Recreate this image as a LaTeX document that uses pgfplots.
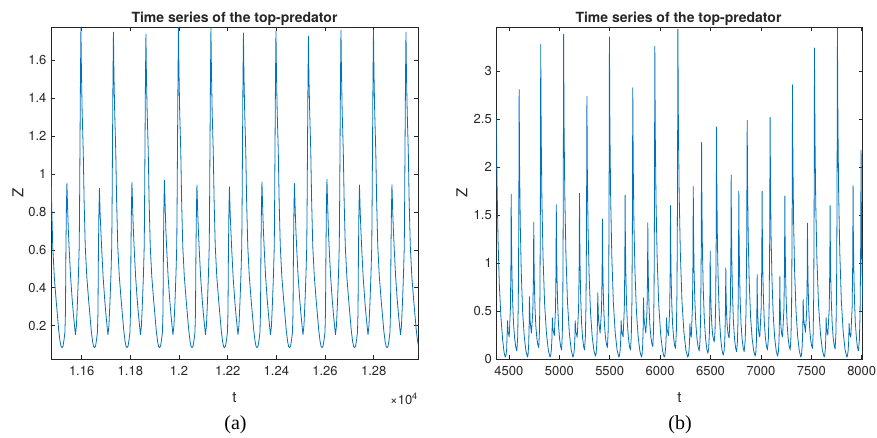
\documentclass[border=0pt]{standalone}
\usepackage{fontspec}
\setmainfont{TeX Gyre Heros}
\newfontfamily\capfont{Liberation Serif}
\usepackage{pgfplots}
\pgfplotsset{compat=1.18}
\definecolor{mblue}{rgb}{0,0.447,0.741}
\definecolor{axgray}{rgb}{0.15,0.15,0.15}
\pgfplotsset{mstyle/.style={
  scale only axis,
  axis line style={axgray, line width=0.7pt},
  tick style={axgray, line width=0.6pt},
  major tick length=4pt,
  tick align=inside,
  xtick pos=both, ytick pos=both,
  tick label style={font=\fontsize{13}{15}\selectfont, text=axgray},
  /pgf/number format/assume math mode=true,
  /pgf/number format/1000 sep={},
  scaled x ticks=false, scaled y ticks=false,
  xticklabel style={yshift=-4pt},
  yticklabel style={xshift=-1pt},
}}
\begin{document}
\begin{tikzpicture}[x=1pt,y=1pt]
\useasboundingbox (0,0) rectangle (877,-437);
\begin{axis}[mstyle, at={(51pt,-359pt)}, anchor=south west, width=367pt, height=332pt,
  xmin=11474, xmax=12982, ymin=0.024, ymax=1.776,
  xtick={11600,11800,12000,12200,12400,12600,12800},
  xticklabels={1.16,1.18,1.2,1.22,1.24,1.26,1.28},
  ytick={0.2,0.4,0.6,0.8,1,1.2,1.4,1.6}]
\addplot[mblue, line width=0.8pt, line join=round] coordinates {
(11468.4,1.33) (11472.9,1.12) (11476.4,0.86) (11481.1,0.62) (11487.4,0.46) (11495.0,0.335) (11500.4,0.255) (11505.7,0.175) (11511.4,0.115) (11515.4,0.09) (11519.4,0.084) (11523.4,0.092) (11527.4,0.125) (11531.2,0.165) (11533.4,0.27) (11535.3,0.6) (11537.4,0.831) (11539.4,0.951) (11542.4,0.811) (11545.4,0.7) (11548.9,0.6) (11554.4,0.46) (11561.2,0.335) (11566.4,0.255) (11571.4,0.19) (11574.4,0.152)
(11578.5,0.2) (11583.0,0.335) (11587.0,0.48) (11590.0,0.62) (11591.5,0.85) (11593.0,1.13) (11595.0,1.5) (11597.0,1.770) (11599.0,1.55) (11602.0,1.33) (11606.5,1.12) (11610.0,0.86) (11614.7,0.62) (11621.0,0.46) (11628.6,0.335) (11634.0,0.255) (11639.3,0.175) (11645.0,0.115) (11649.0,0.09) (11653.0,0.084) (11657.0,0.092) (11661.0,0.125) (11664.8,0.165) (11667.0,0.27) (11668.9,0.6) (11671.0,0.805) (11673.0,0.925) (11676.0,0.785) (11679.0,0.7) (11682.5,0.6) (11688.0,0.46) (11694.8,0.335) (11700.0,0.255) (11705.0,0.19) (11708.0,0.152)
(11712.1,0.2) (11716.6,0.335) (11720.6,0.48) (11723.6,0.62) (11725.1,0.85) (11726.6,1.13) (11728.6,1.5) (11730.6,1.749) (11732.6,1.529) (11735.6,1.33) (11740.1,1.12) (11743.6,0.86) (11748.3,0.62) (11754.6,0.46) (11762.2,0.335) (11767.6,0.255) (11772.9,0.175) (11778.6,0.115) (11782.6,0.09) (11786.6,0.084) (11790.6,0.092) (11794.6,0.125) (11798.4,0.165) (11800.6,0.27) (11802.5,0.6) (11804.6,0.835) (11806.6,0.955) (11809.6,0.815) (11812.6,0.7) (11816.1,0.6) (11821.6,0.46) (11828.4,0.335) (11833.6,0.255) (11838.6,0.19) (11841.6,0.152)
(11845.6,0.2) (11850.1,0.335) (11854.1,0.48) (11857.1,0.62) (11858.6,0.85) (11860.1,1.13) (11862.1,1.5) (11864.1,1.739) (11866.1,1.519) (11869.1,1.33) (11873.6,1.12) (11877.1,0.86) (11881.8,0.62) (11888.1,0.46) (11895.7,0.335) (11901.1,0.255) (11906.4,0.175) (11912.1,0.115) (11916.1,0.09) (11920.1,0.084) (11924.1,0.092) (11928.1,0.125) (11931.9,0.165) (11934.1,0.27) (11936.0,0.6) (11938.1,0.848) (11940.1,0.968) (11943.1,0.828) (11946.1,0.7) (11949.6,0.6) (11955.1,0.46) (11961.9,0.335) (11967.1,0.255) (11972.1,0.19) (11975.1,0.152)
(11979.2,0.2) (11983.7,0.335) (11987.7,0.48) (11990.7,0.62) (11992.2,0.85) (11993.7,1.13) (11995.7,1.5) (11997.7,1.776) (11999.7,1.556) (12002.7,1.33) (12007.2,1.12) (12010.7,0.86) (12015.4,0.62) (12021.7,0.46) (12029.3,0.335) (12034.7,0.255) (12040.0,0.175) (12045.7,0.115) (12049.7,0.09) (12053.7,0.084) (12057.7,0.092) (12061.7,0.125) (12065.5,0.165) (12067.7,0.27) (12069.6,0.6) (12071.7,0.822) (12073.7,0.942) (12076.7,0.802) (12079.7,0.7) (12083.2,0.6) (12088.7,0.46) (12095.5,0.335) (12100.7,0.255) (12105.7,0.19) (12108.7,0.152)
(12112.7,0.2) (12117.2,0.335) (12121.2,0.48) (12124.2,0.62) (12125.7,0.85) (12127.2,1.13) (12129.2,1.5) (12131.2,1.772) (12133.2,1.552) (12136.2,1.33) (12140.7,1.12) (12144.2,0.86) (12148.9,0.62) (12155.2,0.46) (12162.8,0.335) (12168.2,0.255) (12173.5,0.175) (12179.2,0.115) (12183.2,0.09) (12187.2,0.084) (12191.2,0.092) (12195.2,0.125) (12199.0,0.165) (12201.2,0.27) (12203.1,0.6) (12205.2,0.813) (12207.2,0.933) (12210.2,0.793) (12213.2,0.7) (12216.7,0.6) (12222.2,0.46) (12229.0,0.335) (12234.2,0.255) (12239.2,0.19) (12242.2,0.152)
(12246.3,0.2) (12250.8,0.335) (12254.8,0.48) (12257.8,0.62) (12259.3,0.85) (12260.8,1.13) (12262.8,1.5) (12264.8,1.744) (12266.8,1.524) (12269.8,1.33) (12274.3,1.12) (12277.8,0.86) (12282.5,0.62) (12288.8,0.46) (12296.4,0.335) (12301.8,0.255) (12307.1,0.175) (12312.8,0.115) (12316.8,0.09) (12320.8,0.084) (12324.8,0.092) (12328.8,0.125) (12332.6,0.165) (12334.8,0.27) (12336.7,0.6) (12338.8,0.838) (12340.8,0.958) (12343.8,0.818) (12346.8,0.7) (12350.3,0.6) (12355.8,0.46) (12362.6,0.335) (12367.8,0.255) (12372.8,0.19) (12375.8,0.152)
(12379.9,0.2) (12384.4,0.335) (12388.4,0.48) (12391.4,0.62) (12392.9,0.85) (12394.4,1.13) (12396.4,1.5) (12398.4,1.756) (12400.4,1.536) (12403.4,1.33) (12407.9,1.12) (12411.4,0.86) (12416.1,0.62) (12422.4,0.46) (12430.0,0.335) (12435.4,0.255) (12440.7,0.175) (12446.4,0.115) (12450.4,0.09) (12454.4,0.084) (12458.4,0.092) (12462.4,0.125) (12466.2,0.165) (12468.4,0.27) (12470.3,0.6) (12472.4,0.83) (12474.4,0.95) (12477.4,0.81) (12480.4,0.7) (12483.9,0.6) (12489.4,0.46) (12496.2,0.335) (12501.4,0.255) (12506.4,0.19) (12509.4,0.152)
(12513.4,0.2) (12517.9,0.335) (12521.9,0.48) (12524.9,0.62) (12526.4,0.85) (12527.9,1.13) (12529.9,1.5) (12531.9,1.728) (12533.9,1.508) (12536.9,1.33) (12541.4,1.12) (12544.9,0.86) (12549.6,0.62) (12555.9,0.46) (12563.5,0.335) (12568.9,0.255) (12574.2,0.175) (12579.9,0.115) (12583.9,0.09) (12587.9,0.084) (12591.9,0.092) (12595.9,0.125) (12599.7,0.165) (12601.9,0.27) (12603.8,0.6) (12605.9,0.852) (12607.9,0.972) (12610.9,0.832) (12613.9,0.7) (12617.4,0.6) (12622.9,0.46) (12629.7,0.335) (12634.9,0.255) (12639.9,0.19) (12642.9,0.152)
(12647.0,0.2) (12651.5,0.335) (12655.5,0.48) (12658.5,0.62) (12660.0,0.85) (12661.5,1.13) (12663.5,1.5) (12665.5,1.76) (12667.5,1.54) (12670.5,1.33) (12675.0,1.12) (12678.5,0.86) (12683.2,0.62) (12689.5,0.46) (12697.1,0.335) (12702.5,0.255) (12707.8,0.175) (12713.5,0.115) (12717.5,0.09) (12721.5,0.084) (12725.5,0.092) (12729.5,0.125) (12733.3,0.165) (12735.5,0.27) (12737.4,0.6) (12739.5,0.822) (12741.5,0.942) (12744.5,0.802) (12747.5,0.7) (12751.0,0.6) (12756.5,0.46) (12763.3,0.335) (12768.5,0.255) (12773.5,0.19) (12776.5,0.152)
(12780.5,0.2) (12785.0,0.335) (12789.0,0.48) (12792.0,0.62) (12793.5,0.85) (12795.0,1.13) (12797.0,1.5) (12799.0,1.76) (12801.0,1.54) (12804.0,1.33) (12808.5,1.12) (12812.0,0.86) (12816.7,0.62) (12823.0,0.46) (12830.6,0.335) (12836.0,0.255) (12841.3,0.175) (12847.0,0.115) (12851.0,0.09) (12855.0,0.084) (12859.0,0.092) (12863.0,0.125) (12866.8,0.165) (12869.0,0.27) (12870.9,0.6) (12873.0,0.824) (12875.0,0.944) (12878.0,0.804) (12881.0,0.7) (12884.5,0.6) (12890.0,0.46) (12896.8,0.335) (12902.0,0.255) (12907.0,0.19) (12910.0,0.152)
(12914.1,0.2) (12918.6,0.335) (12922.6,0.48) (12925.6,0.62) (12927.1,0.85) (12928.6,1.13) (12930.6,1.5) (12932.6,1.749) (12934.6,1.529) (12937.6,1.33) (12942.1,1.12) (12945.6,0.86) (12950.3,0.62) (12956.6,0.46) (12964.2,0.335) (12969.6,0.255) (12974.9,0.175) (12980.6,0.115) (12984.6,0.09) (12988.6,0.084)
};
\end{axis}
\begin{axis}[mstyle, at={(496.3pt,-359pt)}, anchor=south west, width=366.4pt, height=331.7pt,
  xmin=4375, xmax=8010, ymin=0, ymax=3.46,
  xtick={4500,5000,5500,6000,6500,7000,7500,8000},
  ytick={0,0.5,1,1.5,2,2.5,3}]
\addplot[mblue, line width=0.8pt, line join=round] coordinates {
(4375,2.54) (4382,1.85) (4392,1.25) (4405,0.78) (4420,0.45) (4438,0.2) (4452,0.07) (4463.6,0.02)
(4470.5,0.035) (4477.4,0.096) (4486.6,0.40)
(4491.5,0.29) (4503,0.23)
(4514.9,0.528) (4519.8,0.975) (4522.8,1.72)
(4525.6,1.262) (4530.1,0.903) (4536.8,0.608) (4546.3,0.363) (4557.5,0.208) (4568.6,0.121) (4578.7,0.085)
(4586.8,0.221) (4593.0,0.575) (4597.6,1.311) (4601.8,2.81)
(4605.9,2.029) (4612.5,1.415) (4622.4,0.913) (4636.3,0.494) (4652.8,0.229) (4669.2,0.081) (4684,0.02)
(4689.9,0.045) (4695.8,0.146) (4700.7,0.335) (4703.7,0.65)
(4709.6,0.403) (4723.5,0.27)
(4737.3,0.502) (4743.1,0.85) (4746.5,1.43)
(4749.0,1.063) (4752.9,0.775) (4758.9,0.539) (4767.2,0.343) (4777.1,0.218) (4787.0,0.149) (4795.9,0.12)
(4802.8,0.278) (4808.1,0.689) (4812.1,1.542) (4815.6,3.28)
(4820.2,2.367) (4827.6,1.65) (4838.6,1.063) (4854.3,0.574) (4872.7,0.265) (4891.1,0.092) (4907.7,0.02)
(4914.6,0.036) (4921.6,0.102) (4927.3,0.225) (4930.8,0.43)
(4936.7,0.31) (4950.5,0.245)
(4962.3,0.518) (4967.2,0.928) (4970.2,1.61)
(4972.8,1.186) (4977.1,0.853) (4983.4,0.58) (4992.3,0.353) (5002.9,0.209) (5013.4,0.128) (5022.9,0.095)
(5029.8,0.26) (5035.1,0.687) (5039.1,1.576) (5042.6,3.385)
(5047.2,2.443) (5054.6,1.703) (5065.6,1.097) (5081.3,0.592) (5099.7,0.272) (5118.1,0.094) (5134.7,0.02)
(5141.6,0.035) (5148.6,0.096) (5154.3,0.21) (5157.8,0.40)
(5163.7,0.288) (5177.5,0.227)
(5191.3,0.528) (5197.1,0.979) (5200.5,1.73)
(5203.0,1.272) (5206.9,0.913) (5212.9,0.618) (5221.2,0.373) (5231.1,0.218) (5241.0,0.131) (5249.9,0.095)
(5258.3,0.227) (5264.8,0.571) (5269.7,1.285) (5274,2.74)
(5278.2,1.981) (5285.0,1.385) (5295.1,0.897) (5309.4,0.491) (5326.3,0.233) (5343.1,0.09) (5358.3,0.03)
(5365.3,0.056) (5372.2,0.162) (5378.0,0.36) (5381.5,0.69)
(5388.4,0.417) (5404.6,0.27)
(5418.5,0.508) (5424.3,0.865) (5427.8,1.46)
(5430.3,1.085) (5434.3,0.79) (5440.2,0.549) (5448.7,0.348) (5458.6,0.22) (5468.6,0.149) (5477.5,0.12)
(5484.4,0.282) (5489.8,0.703) (5493.7,1.578) (5497.3,3.36)
(5501.9,2.425) (5509.4,1.69) (5520.5,1.089) (5536.2,0.588) (5554.8,0.271) (5573.3,0.093) (5590,0.02)
(5597.0,0.035) (5603.9,0.096) (5609.7,0.21) (5613.2,0.40)
(5619.1,0.29) (5633,0.23)
(5644.9,0.526) (5649.9,0.97) (5652.9,1.71)
(5655.6,1.258) (5659.8,0.903) (5666.2,0.612) (5675.2,0.37) (5685.8,0.216) (5696.4,0.131) (5705.9,0.095)
(5714.0,0.232) (5720.2,0.587) (5724.8,1.326) (5729,2.83)
(5733.3,2.043) (5740.2,1.425) (5750.5,0.919) (5765.1,0.498) (5782.3,0.231) (5799.5,0.082) (5815,0.02)
(5821,0.045) (5827,0.144) (5832,0.33) (5835,0.64)
(5841.9,0.4) (5858.1,0.27)
(5870.0,0.5) (5875.0,0.845) (5878,1.42)
(5880.5,1.059) (5884.4,0.775) (5890.4,0.543) (5898.8,0.349) (5908.8,0.227) (5918.7,0.158) (5927.6,0.13)
(5934.6,0.287) (5940.0,0.693) (5943.9,1.539) (5947.5,3.26)
(5952.1,2.353) (5959.6,1.64) (5970.7,1.057) (5986.4,0.571) (6005.0,0.263) (6023.5,0.091) (6040.2,0.02)
(6047.1,0.036) (6054.1,0.102) (6059.8,0.225) (6063.3,0.43)
(6069.3,0.31) (6083.2,0.245)
(6095.1,0.516) (6100.0,0.923) (6103,1.60)
(6105.5,1.183) (6109.5,0.855) (6115.4,0.587) (6123.9,0.363) (6133.8,0.222) (6143.8,0.143) (6152.7,0.11)
(6161.0,0.277) (6167.5,0.709) (6172.2,1.609) (6176.5,3.44)
(6181.3,2.482) (6189.0,1.73) (6200.6,1.114) (6217.0,0.601) (6236.3,0.277) (6255.6,0.095) (6273,0.02)
(6279.9,0.034) (6286.8,0.09) (6292.6,0.195) (6296,0.37)
(6299.9,0.277) (6309,0.227)
(6321,0.542) (6326,1.014) (6329,1.80)
(6332.0,1.32) (6336.7,0.943) (6343.8,0.634) (6353.8,0.377) (6365.6,0.214) (6377.4,0.123) (6388,0.085)
(6396.2,0.194) (6402.6,0.477) (6407.3,1.064) (6411.5,2.26)
(6414.6,1.644) (6419.6,1.16) (6427.1,0.764) (6437.8,0.434) (6450.3,0.225) (6462.8,0.108) (6474,0.06)
(6482.2,0.113) (6488.4,0.252) (6493.1,0.539) (6497.3,1.125)
(6499.3,0.86) (6502.5,0.653) (6507.2,0.482) (6514.0,0.341) (6521.6,0.251) (6529.6,0.201) (6537,0.18)
(6545.1,0.292) (6551.3,0.583) (6555.9,1.188) (6560,2.42)
(6563.3,1.754) (6568.6,1.23) (6576.5,0.802) (6587.7,0.445) (6600.9,0.219) (6614.1,0.092) (6626,0.04)
(6635.1,0.086) (6642.1,0.204) (6647.3,0.45) (6652,0.95)
(6653.7,0.746) (6656.3,0.585) (6660.3,0.454) (6665.9,0.344) (6672.5,0.275) (6679.1,0.236) (6685,0.22)
(6697,0.56) (6702,1.07) (6705,1.92)
(6707.7,1.404) (6711.9,0.999) (6718.3,0.667) (6727.3,0.39) (6737.9,0.215) (6748.5,0.118) (6758,0.077)
(6766.1,0.161) (6772.3,0.378) (6776.9,0.83) (6781,1.75)
(6783.7,1.282) (6787.9,0.914) (6794.3,0.612) (6803.3,0.361) (6813.9,0.202) (6824.5,0.114) (6834,0.077)
(6844.5,0.198) (6852.6,0.511) (6858.6,1.163) (6864,2.49)
(6868.0,1.801) (6874.3,1.26) (6883.8,0.817) (6897.2,0.448) (6913.0,0.215) (6928.8,0.084) (6943,0.03)
(6950,0.073) (6955.4,0.183) (6959.4,0.413) (6963,0.88)
(6964.3,0.698) (6966.4,0.555) (6969.5,0.438) (6973.9,0.341) (6979.1,0.279) (6984.3,0.244) (6989,0.23)
(7002.8,0.534) (7008.6,0.99) (7012,1.75)
(7014.7,1.287) (7018.9,0.923) (7025.3,0.625) (7034.3,0.376) (7044.9,0.219) (7055.5,0.131) (7065,0.095)
(7074.3,0.216) (7081.4,0.532) (7086.7,1.186) (7091.5,2.52)
(7095.2,1.823) (7101.1,1.275) (7109.9,0.827) (7122.4,0.453) (7137.1,0.217) (7151.8,0.085) (7165,0.03)
(7173.1,0.072) (7179.3,0.179) (7183.9,0.404) (7188,0.86)
(7189.3,0.684) (7191.4,0.545) (7194.6,0.432) (7199.1,0.337) (7204.4,0.277) (7209.7,0.244) (7214.5,0.23)
(7228.4,0.524) (7234.1,0.965) (7237.6,1.70)
(7240.2,1.251) (7244.5,0.898) (7250.8,0.609) (7259.8,0.368) (7270.3,0.215) (7280.9,0.13) (7290.4,0.095)
(7298.5,0.233) (7304.7,0.593) (7309.3,1.339) (7313.5,2.86)
(7317.6,2.065) (7324.2,1.44) (7334.1,0.929) (7348.2,0.503) (7364.7,0.233) (7381.2,0.082) (7396,0.02)
(7403.0,0.044) (7409.9,0.14) (7415.7,0.32) (7419.2,0.62)
(7426.1,0.399) (7442.3,0.28)
(7454.2,0.507) (7459.1,0.848) (7462.1,1.415)
(7464.6,1.05) (7468.5,0.763) (7474.5,0.528) (7482.9,0.332) (7492.9,0.208) (7502.8,0.139) (7511.7,0.11)
(7518.6,0.267) (7524.0,0.674) (7527.9,1.521) (7531.5,3.245)
(7536.3,2.342) (7543.9,1.633) (7555.4,1.052) (7571.7,0.568) (7590.8,0.262) (7610.0,0.091) (7627.2,0.02)
(7633.1,0.036) (7639.1,0.102) (7644.0,0.225) (7647,0.43)
(7652.0,0.313) (7663.6,0.25)
(7677.5,0.52) (7683.2,0.925) (7686.7,1.60)
(7689.2,1.181) (7693.1,0.853) (7699.1,0.583) (7707.5,0.359) (7717.4,0.217) (7727.3,0.138) (7736.2,0.105)
(7744.3,0.272) (7750.5,0.707) (7755.1,1.61) (7759.3,3.45)
(7763.9,2.49) (7771.3,1.735) (7782.4,1.118) (7798.2,0.603) (7816.7,0.277) (7835.2,0.095) (7851.8,0.02)
(7858.7,0.034) (7865.7,0.09) (7871.4,0.195) (7874.9,0.37)
(7879.9,0.277) (7891.4,0.227)
(7905.3,0.544) (7911.0,1.018) (7914.5,1.81)
(7917.1,1.327) (7921.4,0.948) (7927.7,0.637) (7936.7,0.378) (7948.0,0.214) (7957.8,0.123) (7967.3,0.085)
(7976.6,0.19) (7983.7,0.462) (7989.0,1.028) (7993.8,2.18)
(7997.6,1.4) (8003.7,0.9) (8012.8,0.5) (8025.7,0.25)
};
\end{axis}
\begin{scope}[every node/.style={text=axgray}]
\node[anchor=base, font=\bfseries\fontsize{14}{16}\selectfont] at (234.5,-22) {Time series of the top-predator};
\node[anchor=base, font=\bfseries\fontsize{14}{16}\selectfont] at (678.5,-22) {Time series of the top-predator};
\node[anchor=base, font=\fontsize{15}{17}\selectfont] at (234.5,-402) {t};
\node[anchor=base, font=\fontsize{15}{17}\selectfont] at (679.5,-402) {t};
\node[rotate=90, font=\fontsize{15}{17}\selectfont, inner sep=0pt] at (18,-193) {Z};
\node[rotate=90, font=\fontsize{15}{17}\selectfont, inner sep=0pt] at (462,-193) {Z};
\node[anchor=base east, inner sep=0pt, font=\fontsize{13}{15}\selectfont] at (418,-404) {×10\textsuperscript{4}};
\end{scope}
\node[anchor=base, font=\capfont\fontsize{20}{22}\selectfont] at (235.5,-429) {(a)};
\node[anchor=base, font=\capfont\fontsize{20}{22}\selectfont] at (680,-429) {(b)};
\end{tikzpicture}
\end{document}
